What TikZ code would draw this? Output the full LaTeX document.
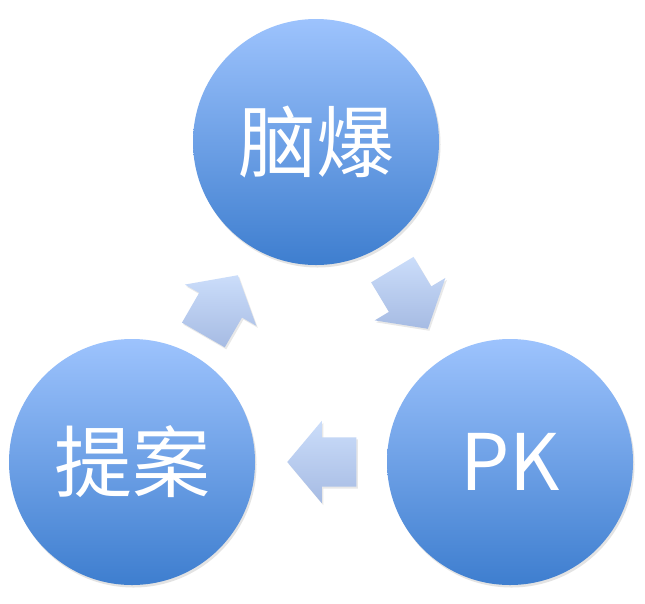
\documentclass[tikz,border=0pt]{standalone}
\usepackage{fontspec}
\newfontfamily\cjk{Noto Sans CJK SC}
\usetikzlibrary{
  calc,
  shapes.arrows,
  shadows
}
\definecolor{cycleTop}{RGB}{157,195,253}
\definecolor{cycleBottom}{RGB}{62,126,207}
\definecolor{arrowTop}{RGB}{203,221,250}
\definecolor{arrowBottom}{RGB}{166,187,227}
\tikzset{
  cyclebubble/.style={
    circle,
    minimum size=246pt,
    inner sep=0pt,
    top color=cycleTop,
    bottom color=cycleBottom,
    text=white,
    font=\cjk\fontsize{78}{78}\selectfont,
    drop shadow={opacity=0.22, shadow xshift=1.5pt, shadow yshift=-2.5pt}
  },
  cyclearrow/.style={
    single arrow,
    minimum height=69pt,
    inner xsep=0pt,
    inner ysep=24.5pt,
    single arrow head extend=16.5pt,
    single arrow tip angle=100,
    anchor=tip,
    top color=arrowTop,
    bottom color=arrowBottom,
    drop shadow={opacity=0.18, shadow xshift=1.5pt, shadow yshift=-2pt}
  }
}

\begin{document}
\begin{tikzpicture}[x=1pt, y=-1pt]
  \fill[white] (0,0) rectangle (645,603);

  \node[cyclebubble] (brain) at (316,142) {脑爆};
  \node[cyclebubble] (pk) at (510,462) {PK};
  \node[cyclebubble] (proposal) at (132,462) {提案};

  % arrows placed by their tips
  \node[cyclearrow, rotate=60] (upArrow) at (238,275) {};
  \node[cyclearrow, rotate=-59] (downArrow) at (428,329) {};
  \node[cyclearrow, rotate=180] (backArrow) at (287,462) {};
\end{tikzpicture}
\end{document}
